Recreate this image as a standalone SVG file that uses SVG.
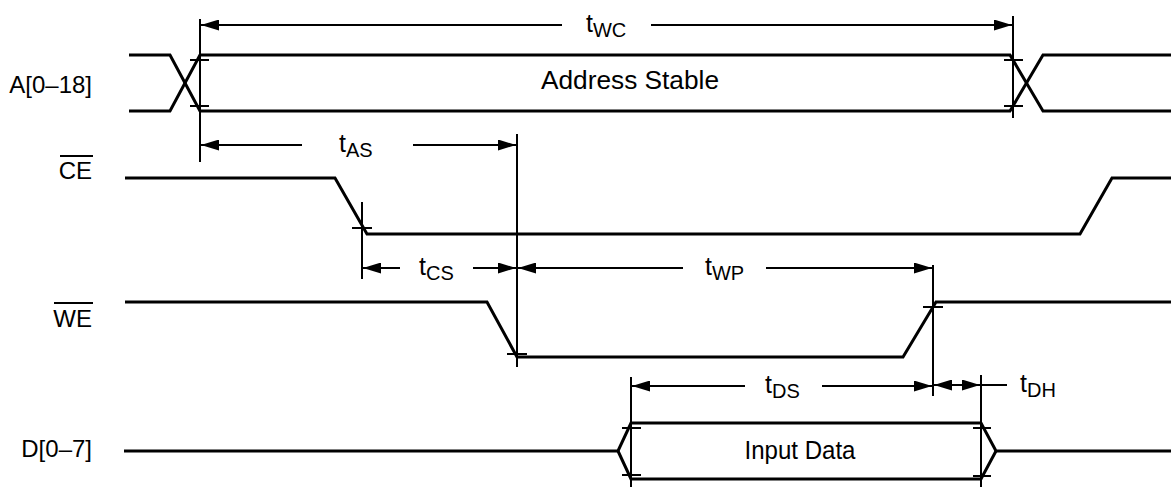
<svg xmlns="http://www.w3.org/2000/svg" width="1171" height="487" viewBox="0 0 1171 487">
<style>
.sig{fill:none;stroke:#000;stroke-width:3;stroke-linejoin:miter}
.dim{fill:none;stroke:#000;stroke-width:2}
.arr{fill:none;stroke:#000;stroke-width:2;marker-end:url(#ah)}
text{font-family:"Liberation Sans",Arial,Helvetica,sans-serif;fill:#000}
.lbl{font-size:24px;text-anchor:end}
.tm{font-size:25px}
.sub{font-size:20px}
.box{font-size:25px;text-anchor:middle}
</style>
<defs>
<marker id="ah" markerUnits="userSpaceOnUse" markerWidth="18" markerHeight="11" viewBox="0 0 18 11" refX="18" refY="5.5" orient="auto">
<path d="M0,0 L18,5.5 L0,11 z" fill="#000"/>
</marker>
</defs>
<rect width="1171" height="487" fill="#fff"/>

<g id="labels">
<text class="lbl" x="92" y="93">A[0–18]</text>
<text class="lbl" x="92" y="179">CE</text>
<line class="dim" x1="60" y1="156" x2="93" y2="156"/>
<text class="lbl" x="92" y="327">WE</text>
<line class="dim" x1="54" y1="303" x2="93" y2="303"/>
<text class="lbl" x="92" y="457">D[0–7]</text>
</g>

<g id="signal-A">
<polyline class="sig" points="129,55 170,55 200,111 1010,111 1043,55 1171,55"/>
<polyline class="sig" points="129,111 170,111 200,55 1010,55 1043,111 1171,111"/>
<text class="box" x="630" y="89" textLength="178" lengthAdjust="spacingAndGlyphs">Address Stable</text>
</g>

<g id="signal-CE">
<polyline class="sig" points="125,178 335,178 367,234 1080,234 1112,178 1171,178"/>
</g>

<g id="signal-WE">
<polyline class="sig" points="125,302 487,302 517,357 903,357 936,302 1171,302"/>
</g>

<g id="signal-D">
<polyline class="sig" points="124,451 618,451 631,423 981,423 996,451 1171,451"/>
<polyline class="sig" points="618,451 631,479 981,479 996,451"/>
<text class="box" x="800" y="459" textLength="111" lengthAdjust="spacingAndGlyphs">Input Data</text>
</g>

<g id="connectors">
<line class="dim" x1="200" y1="19" x2="200" y2="162"/>
<line class="dim" x1="1013" y1="16" x2="1013" y2="118"/>
<line class="dim" x1="362" y1="202" x2="362" y2="279"/>
<line class="dim" x1="517" y1="134" x2="517" y2="367"/>
<line class="dim" x1="933" y1="265" x2="933" y2="396"/>
<line class="dim" x1="631" y1="377" x2="631" y2="487"/>
<line class="dim" x1="981" y1="375" x2="981" y2="487"/>

<line class="dim" x1="190" y1="60" x2="209" y2="60"/>
<line class="dim" x1="190" y1="106" x2="209" y2="106"/>
<line class="dim" x1="1004" y1="60" x2="1023" y2="60"/>
<line class="dim" x1="1004" y1="106" x2="1023" y2="106"/>
<line class="dim" x1="352" y1="228" x2="372" y2="228"/>
<line class="dim" x1="507" y1="354" x2="527" y2="354"/>
<line class="dim" x1="923" y1="307" x2="943" y2="307"/>
<line class="dim" x1="622" y1="428" x2="641" y2="428"/>
<line class="dim" x1="622" y1="475" x2="641" y2="475"/>
<line class="dim" x1="973" y1="428" x2="991" y2="428"/>
<line class="dim" x1="973" y1="476" x2="991" y2="476"/>

<path class="arr" d="M562,25 L201,25"/>
<path class="arr" d="M651,25 L1012,25"/>
<path class="arr" d="M302,145 L201,145"/>
<path class="arr" d="M413,145 L516,145"/>
<path class="arr" d="M400,268 L363,268"/>
<path class="arr" d="M473,268 L516,268"/>
<path class="arr" d="M683,268 L518,268"/>
<path class="arr" d="M766,268 L932,268"/>
<path class="arr" d="M745,386 L632,386"/>
<path class="arr" d="M822,386 L932,386"/>
<path class="arr" d="M957,385 L934,385"/>
<path class="arr" d="M957,385 L980,385"/>
<path class="dim" d="M981,385 L1007,385"/>
</g>

<g id="timing-labels">
<text class="tm" x="586" y="32">t<tspan class="sub" dy="5">WC</tspan></text>
<text class="tm" x="339" y="152">t<tspan class="sub" dy="5">AS</tspan></text>
<text class="tm" x="419" y="275">t<tspan class="sub" dy="5">CS</tspan></text>
<text class="tm" x="705" y="275">t<tspan class="sub" dy="5">WP</tspan></text>
<text class="tm" x="765" y="393">t<tspan class="sub" dy="5">DS</tspan></text>
<text class="tm" x="1020" y="392">t<tspan class="sub" dy="5">DH</tspan></text>
</g>
</svg>
